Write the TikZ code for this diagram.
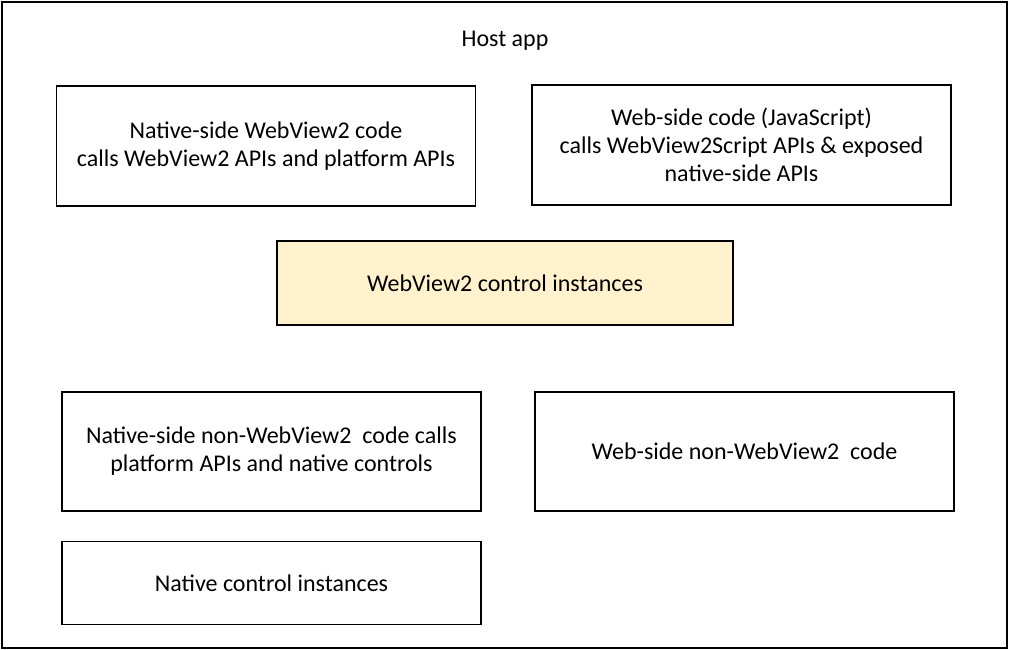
\documentclass[tikz,border=0pt]{standalone}
\usepackage{fontspec}
\setmainfont{Carlito}
\usepackage{xcolor}
\usepackage{tikz}
\usetikzlibrary{positioning}

\definecolor{ctrlfill}{HTML}{FFF2CC}

\begin{document}
\begin{tikzpicture}[x=1pt, y=-1pt,
    font=\fontsize{24}{28}\selectfont,
    codebox/.style = {draw, line width=1.4pt, align=center, inner sep=0pt,
                      minimum width=419pt, minimum height=120pt},
    ctrlbox/.style = {codebox, fill=ctrlfill, minimum width=456pt, minimum height=84pt}]
              \useasboundingbox (0,0) rectangle (1010,650);
              \draw[line width=1.5pt] (2,2) rectangle (1007,648);

              \node (host) at (505,41) {Host app};

              \node[codebox] (nativewv) at (266,146)
                {Native-side WebView2 code\\calls WebView2 APIs and platform APIs};
              \node[codebox] (webwv) at (741.5,145)
                {Web-side code (JavaScript)\\calls WebView2Script APIs \& exposed\\native-side APIs};

              \node[ctrlbox] (wvctrl) at (505,283) {WebView2 control instances};

              \node[codebox, minimum height=119pt] (nativeother) at (271.5,451.5)
                {Native-side non-WebView2\ \ code calls\\platform APIs and native controls};
              \node[codebox, minimum height=119pt] (webother) at (744.5,451.5)
                {Web-side non-WebView2\ \ code};

              \node[codebox, minimum height=83pt, below=29pt of nativeother] (nativectrl)
                {Native control instances};
            \end{tikzpicture}
\end{document}
